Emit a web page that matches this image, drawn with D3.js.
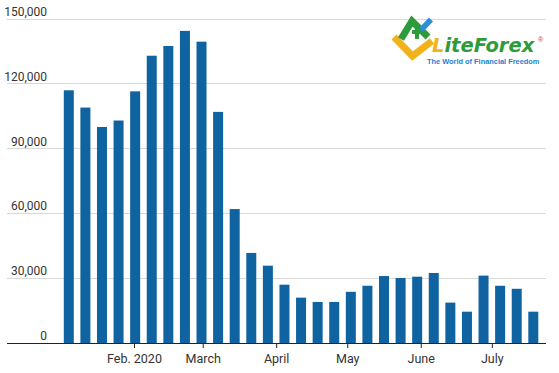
<!DOCTYPE html>
<html><head><meta charset="utf-8">
<script src="https://cdn.jsdelivr.net/npm/d3@7"></script>
<style>body{margin:0;background:#fff}svg{display:block}</style></head>
<body>
<svg id="c" width="559" height="373"></svg>
<script>
const weekEnding = ["2020-01-04","2020-01-11","2020-01-18","2020-01-25","2020-02-01","2020-02-08","2020-02-15","2020-02-22","2020-02-29","2020-03-07","2020-03-14","2020-03-21","2020-03-28","2020-04-04","2020-04-11","2020-04-18","2020-04-25","2020-05-02","2020-05-09","2020-05-16","2020-05-23","2020-05-30","2020-06-06","2020-06-13","2020-06-20","2020-06-27","2020-07-04","2020-07-11","2020-07-18"];
const values = [117000,109000,100000,103000,116500,133000,137500,144500,139500,107000,62000,41700,35800,27000,21000,19000,19000,23700,26500,31000,30100,30700,32400,18700,14500,31200,26500,25100,14500];
const yTicks = [0,30000,60000,90000,120000,150000];
const xTickDates = ["2020-02-01","2020-03-01","2020-04-01","2020-05-01","2020-06-01","2020-07-01"];
const xTickLabels = ["Feb. 2020","March","April","May","June","July"];

const parse = d3.timeParse("%Y-%m-%d");
const svg = d3.select("#c");
const FONT = "'Roboto',sans-serif";

const x = d3.scaleTime().domain([parse("2020-01-01"), parse("2020-07-22")]).range([60.5, 541.6]);
const y = d3.scaleLinear().domain([0,150000]).range([343,19]);
const barW = 10;
const gridX0 = 7, gridX1 = 546;

// gridlines
svg.append("g").selectAll("line").data(yTicks.filter(d=>d>0)).join("line")
  .attr("x1",gridX0).attr("x2",gridX1)
  .attr("y1",d=>y(d)).attr("y2",d=>y(d))
  .attr("stroke","#d9d9d9").attr("stroke-width",1).attr("shape-rendering","crispEdges");

// y labels
svg.append("g").selectAll("text").data(yTicks).join("text")
  .attr("x",47).attr("y",d=>y(d)-3)
  .attr("text-anchor","end")
  .attr("font-family",FONT).attr("font-size",12).attr("fill","#333")
  .text(d3.format(","));

// bars
const data = weekEnding.map((d,i)=>({date:d3.timeHour.offset(parse(d),12), v:values[i]}));
svg.append("g").selectAll("rect").data(data).join("rect")
  .attr("x",d=>x(d.date)-barW/2).attr("width",barW)
  .attr("y",d=>y(d.v)).attr("height",d=>y(0)-y(d.v))
  .attr("fill","#0f63a0");

// x axis
const xAxis = d3.axisBottom(x)
  .tickValues(xTickDates.map(parse))
  .tickFormat((d,i)=>xTickLabels[i])
  .tickSize(5).tickPadding(6);
const gx = svg.append("g").attr("transform",`translate(0,${y(0)})`).call(xAxis);
gx.select(".domain").remove();
gx.selectAll(".tick line").attr("stroke","#222");
gx.selectAll(".tick text").attr("font-family",FONT).attr("font-size",12.5).attr("fill","#333");
svg.append("line").attr("x1",gridX0).attr("x2",gridX1).attr("y1",y(0)).attr("y2",y(0))
  .attr("stroke","#222").attr("stroke-width",1).attr("shape-rendering","crispEdges");

// logo
const logo = svg.append("g");
logo.append("path").attr("d","M394,37 L412.5,56 L432,41").attr("fill","none")
  .attr("stroke","#f2b21b").attr("stroke-width",7).attr("stroke-linejoin","miter");
logo.append("path").attr("d","M401,39 L412,21 L428,37").attr("fill","none")
  .attr("stroke","#2e9b3a").attr("stroke-width",7);
logo.append("path").attr("d","M412,32 L420,32 M417,29 L417,39").attr("fill","none")
  .attr("stroke","#2e9b3a").attr("stroke-width",4);
logo.append("path").attr("d","M421,30 L431,19.5").attr("fill","none")
  .attr("stroke","#2a8fd8").attr("stroke-width",5.5);
const lt = logo.append("text").attr("x",432).attr("y",52)
  .attr("font-family","'DejaVu Sans',sans-serif").attr("font-weight","bold")
  .attr("font-style","italic").attr("font-size",19.5);
lt.append("tspan").attr("fill","#f2b21b").text("L");
lt.append("tspan").attr("fill","#2e9b3a").text("iteForex");
logo.append("text").attr("x",538).attr("y",42).attr("font-family","'Liberation Sans',Arial,sans-serif")
  .attr("font-size",7).attr("fill","#e0303a").text("®");
logo.append("text").attr("x",427).attr("y",64)
  .attr("font-family","'Liberation Sans',Arial,sans-serif").attr("font-weight","bold")
  .attr("font-size",7.4).attr("fill","#1f7fd0").text("The World of Financial Freedom");
</script>
</body></html>
